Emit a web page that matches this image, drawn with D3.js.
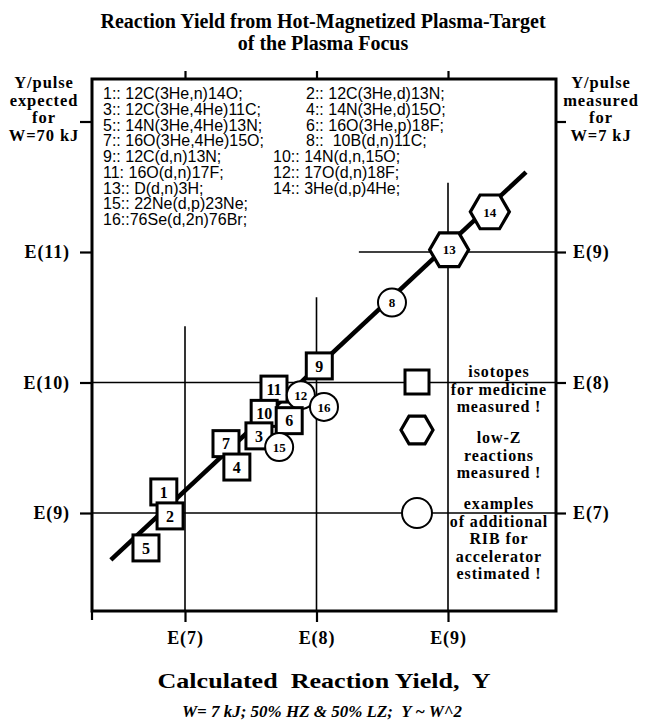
<!DOCTYPE html>
<html lang="en">
<head>
<meta charset="UTF-8">
<title>Reaction Yield from Hot-Magnetized Plasma-Target</title>
<script src="https://d3js.org/d3.v7.min.js"></script>
<style>
  body { margin: 0; background: #fff; }
  .serif { font-family: "Liberation Serif", "Times New Roman", serif; font-weight: bold; fill: #000; }
  .wide { letter-spacing: 0.9px; }
  .sans { font-family: "Liberation Sans", Arial, sans-serif; fill: #000; white-space: pre; }
</style>
</head>
<body>
<div id="chart"></div>
<script>
// reaction number, calculated yield Y (x) and yield per pulse expected for 70 kJ (left axis)
const ids       = [1, 2, 3, 4, 5, 6, 7, 8, 9, 10, 11, 12, 13, 14, 15, 16];
const calcYield = [6.9e6, 7.7e6, 3.65e7, 2.48e7, 5.05e6, 6.2e7, 2.05e7, 3.75e8,
                   1.05e8, 4.0e7, 4.75e7, 7.6e7, 1.02e9, 2.08e9, 5.2e7, 1.14e8];
const expYield  = [1.45e9, 9.5e8, 3.9e9, 2.25e9, 5.4e8, 5.1e9, 3.4e9, 4.1e10,
                   1.34e10, 5.8e9, 8.9e9, 8.0e9, 1.04e11, 2.03e11, 3.2e9, 6.5e9];
// sq = isotopes for medicine, hex = low-Z reactions, circ = RIB estimated
const kinds     = ["sq", "sq", "sq", "sq", "sq", "sq", "sq", "circ",
                   "sq", "sq", "sq", "circ", "hex", "hex", "circ", "circ"];
const reactions = ["1:: 12C(3He,n)14O;", "2:: 12C(3He,d)13N;",
                   "3:: 12C(3He,4He)11C;", "4:: 14N(3He,d)15O;",
                   "5:: 14N(3He,4He)13N;", "6:: 16O(3He,p)18F;",
                   "7:: 16O(3He,4He)15O;", "8::  10B(d,n)11C;",
                   "9:: 12C(d,n)13N;", "10:: 14N(d,n,15O;",
                   "11: 16O(d,n)17F;", "12:: 17O(d,n)18F;",
                   "13:: D(d,n)3H;", "14:: 3He(d,p)4He;",
                   "15:: 22Ne(d,p)23Ne;", "16::76Se(d,2n)76Br;"];

// trend line end points
const fitX = [2.73e6, 3.92e9];
const fitY = [4.37e8, 4.1e11];

const xTicks       = [1e7, 1e8, 1e9];
const xTickLabels  = ["E(7)", "E(8)", "E(9)"];
const yTicks       = [1e9, 1e10, 1e11, 1e12];
const yTickLabels  = ["E(9)", "E(10)", "E(11)", ""];
const yRightTicks  = [1e7, 1e8, 1e9, 1e10];
const yRightLabels = ["E(7)", "E(8)", "E(9)", ""];

// inner grid lines: value and where they start
const gridX     = [1e7, 1e8, 1e9];
const gridXFrom = [2.7e10, 4.5e10, 3.4e11];
const gridY     = [1e9, 1e10, 1e11];
const gridYFrom = [null, null, 2.1e8];

const legendKinds = ["sq", "hex", "circ"];
const legendText  = [["isotopes", "for medicine", "measured !"],
                     ["low-Z", "reactions", "measured !"],
                     ["examples", "of additional", "RIB for", "accelerator", "estimated !"]];

const width = 646, height = 721;
const L = 92, R = 556, T = 79, B = 611;

const svg = d3.select("#chart").append("svg")
    .attr("width", width)
    .attr("height", height);

const x = d3.scaleLog().domain([1e7, 1e9]).range([185, 448]);
const y = d3.scaleLog().domain([1e9, 1e11]).range([513, 252]);
const yR = d3.scaleLog().domain([1e7, 1e9]).range([513, 252]);

// title
svg.append("text").attr("class", "serif")
    .attr("x", 323).attr("y", 28)
    .attr("text-anchor", "middle").style("font-size", "20px")
    .text("Reaction Yield from Hot-Magnetized Plasma-Target");
svg.append("text").attr("class", "serif")
    .attr("x", 323).attr("y", 50)
    .attr("text-anchor", "middle").style("font-size", "20px")
    .text("of the Plasma Focus");

// grid
svg.append("g").selectAll("line")
    .data(gridX)
    .join("line")
    .attr("x1", d => x(d)).attr("x2", d => x(d))
    .attr("y1", (d, i) => y(gridXFrom[i])).attr("y2", B)
    .attr("stroke", "#000").attr("stroke-width", 1.6);

svg.append("g").selectAll("line")
    .data(gridY)
    .join("line")
    .attr("x1", (d, i) => gridYFrom[i] ? x(gridYFrom[i]) : L).attr("x2", R)
    .attr("y1", d => y(d)).attr("y2", d => y(d))
    .attr("stroke", "#000").attr("stroke-width", 1.6);

// axes
function styleAxis(g, size) {
    g.select(".domain").remove();
    g.selectAll(".tick line").attr("stroke", "#000").attr("stroke-width", 2.2);
    g.selectAll(".tick text").attr("class", "serif wide").style("font-size", size + "px");
}

svg.append("g")
    .attr("transform", `translate(0,${B})`)
    .call(d3.axisBottom(x).tickValues(xTicks).tickSize(11).tickPadding(9)
        .tickFormat((d, i) => xTickLabels[i]))
    .call(g => styleAxis(g, 18));

svg.append("g")
    .attr("transform", `translate(0,${T})`)
    .call(d3.axisTop(x).tickValues(xTicks).tickSize(8).tickFormat(""))
    .call(g => styleAxis(g, 18));

svg.append("g")
    .attr("transform", `translate(${L},0)`)
    .call(d3.axisLeft(y).tickValues(yTicks).tickSize(12).tickPadding(10)
        .tickFormat((d, i) => yTickLabels[i]))
    .call(g => styleAxis(g, 18));

svg.append("g")
    .attr("transform", `translate(${R},0)`)
    .call(d3.axisRight(yR).tickValues(yRightTicks).tickSize(10).tickPadding(7)
        .tickFormat((d, i) => yRightLabels[i]))
    .call(g => styleAxis(g, 18));

// frame
svg.append("rect")
    .attr("x", L).attr("y", T)
    .attr("width", R - L).attr("height", B - T)
    .attr("fill", "none").attr("stroke", "#000").attr("stroke-width", 3);
svg.append("line")
    .attr("x1", L).attr("x2", L).attr("y1", B).attr("y2", B + 9)
    .attr("stroke", "#000").attr("stroke-width", 2.2);

// side titles
const leftTitle = ["Y/pulse", "expected", "for", "W=70 kJ"];
const rightTitle = ["Y/pulse", "measured", "for", "W=7 kJ"];
svg.append("g").selectAll("text")
    .data(leftTitle)
    .join("text").attr("class", "serif wide")
    .attr("x", 44).attr("y", (d, i) => 88 + i * 17.5)
    .attr("text-anchor", "middle").style("font-size", "16.5px")
    .text(d => d);
svg.append("g").selectAll("text")
    .data(rightTitle)
    .join("text").attr("class", "serif wide")
    .attr("x", 601).attr("y", (d, i) => 88 + i * 17.5)
    .attr("text-anchor", "middle").style("font-size", "16.5px")
    .text(d => d);

// reaction list: pairs on the first seven rows, then one per row
const list = svg.append("g");
reactions.forEach((r, i) => {
    const paired = i < 14;
    const row = paired ? Math.floor(i / 2) : 7 + (i - 14);
    const col2x = row < 4 ? 306 : 273;
    list.append("text").attr("class", "sans")
        .attr("x", paired && i % 2 === 1 ? col2x : 103)
        .attr("y", 99 + row * 15.75)
        .style("font-size", "16px")
        .text(r);
});

// trend line
svg.append("path")
    .datum(fitX.map((d, i) => [d, fitY[i]]))
    .attr("d", d3.line().x(d => x(d[0])).y(d => y(d[1])))
    .attr("fill", "none").attr("stroke", "#000").attr("stroke-width", 4.5);

// markers
function hexPath(r) {
    const pts = d3.range(6).map(k => {
        const a = k * Math.PI / 3;
        return [r * Math.cos(a), r * Math.sin(a)];
    });
    return "M" + pts.join("L") + "Z";
}

function drawShape(g, kind, big) {
    if (kind === "sq") {
        const s = big ? 26 : 24;
        g.append("rect").attr("x", -s / 2).attr("y", -s / 2)
            .attr("width", s).attr("height", s)
            .attr("fill", "#fff").attr("stroke", "#000").attr("stroke-width", 3);
    } else if (kind === "hex") {
        g.append("path").attr("d", hexPath(big ? 19.5 : 16))
            .attr("fill", "#fff").attr("stroke", "#000").attr("stroke-width", 3.2);
    } else {
        g.append("circle").attr("r", big ? 14 : 15)
            .attr("fill", "#fff").attr("stroke", "#000").attr("stroke-width", 2);
    }
}

const order = d3.range(ids.length).sort((a, b) => expYield[b] - expYield[a]);
order.forEach(i => {
    const g = svg.append("g")
        .attr("transform", `translate(${x(calcYield[i])},${y(expYield[i])})`);
    drawShape(g, kinds[i], true);
    g.append("text").attr("class", "serif")
        .attr("text-anchor", "middle").attr("dy", "0.36em")
        .style("font-size", kinds[i] === "sq" ? "16px" : "13px")
        .text(ids[i]);
});

// legend
const legendY = [382, 430, 513];
const legendTextY = [377, 443, 509];
legendKinds.forEach((k, i) => {
    const g = svg.append("g").attr("transform", `translate(417,${legendY[i]})`);
    drawShape(g, k, false);
    svg.append("g").selectAll("text")
        .data(legendText[i])
        .join("text").attr("class", "serif wide")
        .attr("x", 499).attr("y", (d, j) => legendTextY[i] + j * 17.5)
        .attr("text-anchor", "middle").style("font-size", "16px")
        .text(d => d);
});

// x title
svg.append("text").attr("class", "serif")
    .attr("x", 324).attr("y", 688)
    .attr("text-anchor", "middle").style("font-size", "22px")
    .style("white-space", "pre")
    .attr("textLength", 333).attr("lengthAdjust", "spacingAndGlyphs")
    .text("Calculated  Reaction Yield,  Y");
svg.append("text").attr("class", "serif")
    .attr("x", 322).attr("y", 717)
    .attr("text-anchor", "middle").style("font-size", "16px")
    .style("font-style", "italic").style("white-space", "pre")
    .attr("textLength", 280).attr("lengthAdjust", "spacingAndGlyphs")
    .text("W= 7 kJ; 50% HZ & 50% LZ;  Y ~ W^2");
</script>
</body>
</html>
